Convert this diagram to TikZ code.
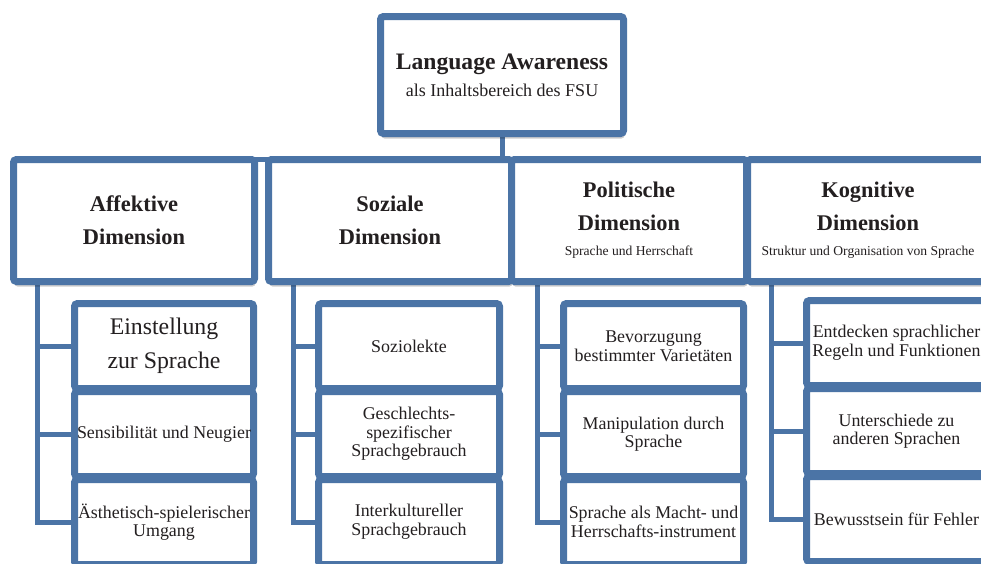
\documentclass[tikz,border=0pt]{standalone}
\usepackage{fontspec}
\setmainfont{Liberation Serif}
\usetikzlibrary{shadows,backgrounds}
\definecolor{boxblue}{RGB}{75,116,166}
\definecolor{ink}{RGB}{35,31,32}
\newcommand\hdsub[1]{{\fontsize{13.6}{15}\mdseries\selectfont #1}}
\tikzset{
  box/.style={draw=boxblue, line width=7pt, fill=white, rounded corners=3pt,
    inner sep=0pt, align=center, text=ink,
    drop shadow={shadow xshift=1pt, shadow yshift=-5pt, opacity=.2, fill=black}},
  topbox/.style={box, minimum width=243pt, minimum height=117pt,
    font=\fontsize{23.6}{27}\selectfont\bfseries},
  headbox/.style={box, minimum height=122pt,
    font=\fontsize{22.4}{33}\selectfont\bfseries},
  leafbox/.style={box, minimum width=180pt, minimum height=85pt,
    font=\fontsize{17.9}{18.6}\selectfont},
  conn/.style={draw=boxblue, line width=5pt}
}
\begin{document}
\begin{tikzpicture}[x=1pt, y=-1pt]
\useasboundingbox (0,0) rectangle (981,563);
\clip (0,0) rectangle (981,563);

% root
\node[topbox] (top) at (502,75)
  {Language Awareness\\{\fontsize{18}{20}\mdseries\selectfont als Inhaltsbereich des FSU}};

% four dimensions
\node[headbox, minimum width=241pt] (aff) at (134,220.5) {Affektive\\Dimension};
\node[headbox, minimum width=243pt] (soz) at (390,220.5) {Soziale\\Dimension};
\node[headbox, minimum width=235pt] (pol) at (629,220.5)
  {Politische\\Dimension\\[-8pt]\hdsub{Sprache und Herrschaft}};
\node[headbox, minimum width=241pt] (kog) at (868,220.5)
  {Kognitive\\Dimension\\[-8pt]\hdsub{Struktur und Organisation von Sprache}};

% affective
\node[leafbox, minimum width=179pt, font=\fontsize{23.8}{34}\selectfont] (a1) at (164,346) {Einstellung\\zur Sprache};
\node[leafbox, minimum width=179pt] (a2) at (164,434) {Sensibilität und Neugier};
\node[leafbox, minimum width=179pt] (a3) at (164,522) {Ästhetisch-spielerischer\\Umgang};

% social
\node[leafbox, minimum width=181pt] (s1) at (409,346) {Soziolekte};
\node[leafbox, minimum width=181pt] (s2) at (409,434) {Geschlechts-\\spezifischer\\Sprachgebrauch};
\node[leafbox, minimum width=181pt] (s3) at (409,522) {Interkultureller\\Sprachgebrauch};

% political
\node[leafbox] (p1) at (653.5,346) {Bevorzugung\\bestimmter Varietäten};
\node[leafbox] (p2) at (653.5,434) {Manipulation durch\\Sprache};
\node[leafbox] (p3) at (653.5,522) {Sprache als Macht- und\\Herrschafts-instrument};

% cognitive
\node[leafbox] (k1) at (896.5,343) {Entdecken sprachlicher\\Regeln und Funktionen};
\node[leafbox] (k2) at (896.5,431) {Unterschiede zu\\anderen Sprachen};
\node[leafbox] (k3) at (896.5,519) {Bewusstsein für Fehler};

% connectors
\coordinate (aRoot) at ([xshift=27pt]aff.south west);
\coordinate (sRoot) at ([xshift=28pt]soz.south west);
\coordinate (pRoot) at ([xshift=29pt]pol.south west);
\coordinate (kRoot) at ([xshift=27pt]kog.south west);
\begin{scope}[on background layer]
  \draw[conn] (top.south) -- (top.south |- aff.north);
  \draw[conn] ([yshift=-3pt]aff.north) -- ([yshift=-3pt]kog.north);
  \draw[conn] (aRoot) |- (a1.west);
  \draw[conn] (aRoot) |- (a2.west);
  \draw[conn] (aRoot) |- (a3.west);
  \draw[conn] (sRoot) |- (s1.west);
  \draw[conn] (sRoot) |- (s2.west);
  \draw[conn] (sRoot) |- (s3.west);
  \draw[conn] (pRoot) |- (p1.west);
  \draw[conn] (pRoot) |- (p2.west);
  \draw[conn] (pRoot) |- (p3.west);
  \draw[conn] (kRoot) |- (k1.west);
  \draw[conn] (kRoot) |- (k2.west);
  \draw[conn] (kRoot) |- (k3.west);
\end{scope}
\end{tikzpicture}
\end{document}
